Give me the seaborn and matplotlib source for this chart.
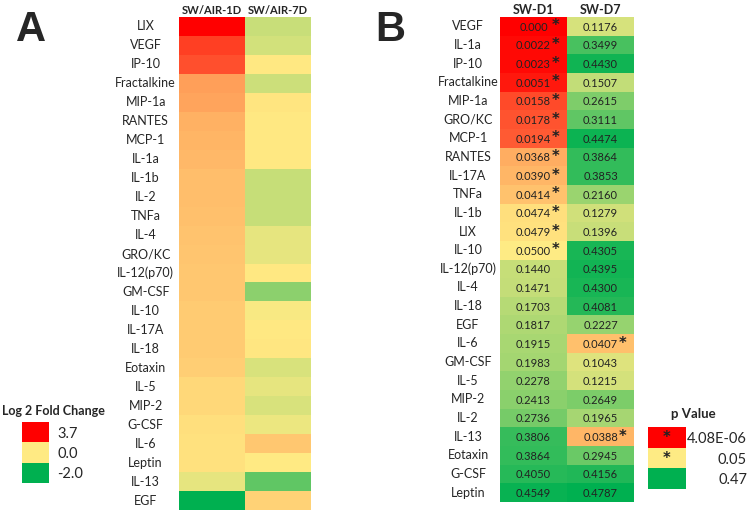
import numpy as np
import pandas as pd
import seaborn as sns
import matplotlib.pyplot as plt
from matplotlib.colors import LinearSegmentedColormap, TwoSlopeNorm

# panel A: log2 fold change
cyto_a = ["LIX", "VEGF", "IP-10", "Fractalkine", "MIP-1a", "RANTES", "MCP-1", "IL-1a",
          "IL-1b", "IL-2", "TNFa", "IL-4", "GRO/KC", "IL-12(p70)", "GM-CSF", "IL-10",
          "IL-17A", "IL-18", "Eotaxin", "IL-5", "MIP-2", "G-CSF", "IL-6", "Leptin",
          "IL-13", "EGF"]
fc_1d = [3.7, 2.7, 2.45, 1.2, 1.1, 0.9, 0.85, 0.8, 0.72, 0.7, 0.68, 0.62, 0.6, 0.56,
         0.55, 0.52, 0.5, 0.5, 0.45, 0.3, 0.3, 0.2, 0.15, 0.15, -0.2, -2.0]
fc_7d = [-0.43, -0.35, 0.05, -0.4, 0.1, 0.05, 0.05, 0.05, -0.45, -0.45, -0.45, -0.2,
         -0.2, 0.05, -0.9, -0.05, 0.05, 0.08, -0.3, -0.2, -0.3, -0.15, 0.55, 0.0,
         -1.25, 0.4]
cols_a = ["SW/AIR-1D", "SW/AIR-7D"]

# panel B: p values
cyto_b = ["VEGF", "IL-1a", "IP-10", "Fractalkine", "MIP-1a", "GRO/KC", "MCP-1", "RANTES",
          "IL-17A", "TNFa", "IL-1b", "LIX", "IL-10", "IL-12(p70)", "IL-4", "IL-18", "EGF",
          "IL-6", "GM-CSF", "IL-5", "MIP-2", "IL-2", "IL-13", "Eotaxin", "G-CSF", "Leptin"]
p_d1 = [4.08e-6, 0.0022, 0.0023, 0.0051, 0.0158, 0.0178, 0.0194, 0.0368, 0.0390, 0.0414,
        0.0474, 0.0479, 0.0500, 0.1440, 0.1471, 0.1703, 0.1817, 0.1915, 0.1983, 0.2278,
        0.2413, 0.2736, 0.3806, 0.3864, 0.4050, 0.4549]
p_d7 = [0.1176, 0.3499, 0.4430, 0.1507, 0.2615, 0.3111, 0.4474, 0.3864, 0.3853, 0.2160,
        0.1279, 0.1396, 0.4305, 0.4395, 0.4300, 0.4081, 0.2227, 0.0407, 0.1043, 0.1215,
        0.2649, 0.1965, 0.0388, 0.2945, 0.4156, 0.4787]
cols_b = ["SW-D1", "SW-D7"]

fc_legend = [3.7, 0.0, -2.0]
p_legend = [4.08e-6, 0.05, 0.47]
p_legend_labels = ["4.08E-06", "0.05", "0.47"]

sns.set_style("white")
plt.rcParams['font.family'] = ['Lato', 'DejaVu Sans']

cmap = LinearSegmentedColormap.from_list("ryg", ["#00B050", "#FFEB84", "#FF0000"])
cmap_p = cmap.reversed()
norm_a = TwoSlopeNorm(vmin=-2.0, vcenter=0.0, vmax=3.7)
norm_b = TwoSlopeNorm(vmin=4.08e-6, vcenter=0.05, vmax=0.47)

fig = plt.figure(figsize=(7.5, 5.13), dpi=100)

# ---- panel A ----
df_a = pd.DataFrame({cols_a[0]: fc_1d, cols_a[1]: fc_7d}, index=cyto_a)
ax_a = fig.add_axes([179/750, 1 - 510/513, 132/750, 493/513])
sns.heatmap(df_a, cmap=cmap, norm=norm_a, cbar=False, ax=ax_a)

# ---- panel B ----
df_b = pd.DataFrame({cols_b[0]: p_d1, cols_b[1]: p_d7}, index=cyto_b)
ax_b = fig.add_axes([500/750, 1 - 502/513, 134/750, 485/513])
sns.heatmap(df_b, cmap=cmap_p, norm=norm_b, cbar=False, ax=ax_b)

for j, col in enumerate(cols_b):
    for i, v in enumerate(df_b[col]):
        txt = "0.000" if v < 0.0005 else f"{v:.4f}"
        ax_b.text(j + 0.5, i + 0.55, txt, ha='center', va='center', fontsize=8,
                  color='#222222')
        if v <= 0.05:
            ax_b.text(j + 0.5 + 0.33, i + 0.48, "*", ha='center', va='center',
                      fontsize=10.5, fontweight='bold', color='#222222',
                      family='DejaVu Sans')

for ax, pad, hsize in [(ax_a, 24, 8), (ax_b, 23, 9)]:
    ax.xaxis.tick_top()
    ax.tick_params(axis='both', length=0)
    ax.tick_params(axis='y', pad=pad, labelsize=9, rotation=0)
    ax.tick_params(axis='x', pad=1, labelsize=hsize)
    for lab in ax.get_yticklabels():
        lab.set_horizontalalignment('center')
    for lab in ax.get_xticklabels():
        lab.set_fontweight('bold')
    ax.set_xlabel("")
    ax.set_ylabel("")

# ---- legend A ----
ax_la = fig.add_axes([22/750, 1 - 483/513, 27/750, 61/513])
sns.heatmap(pd.DataFrame({"v": fc_legend}), cmap=cmap, norm=norm_a, cbar=False, ax=ax_la,
            xticklabels=False, yticklabels=[f"{v:.1f}" for v in fc_legend])
ax_la.yaxis.tick_right()
ax_la.tick_params(axis='y', length=0, pad=6, labelsize=10.5, rotation=0)
fig.text(53/750, 1 - 411/513, "Log 2 Fold Change", ha='center', va='center',
         fontsize=9, fontweight='bold')

# ---- legend B ----
ax_lb = fig.add_axes([648/750, 1 - 489/513, 38/750, 62/513])
sns.heatmap(pd.DataFrame({"p": p_legend}), cmap=cmap_p, norm=norm_b, cbar=False, ax=ax_lb,
            xticklabels=False, yticklabels=p_legend_labels)
for i, v in enumerate(p_legend):
    if v <= 0.05:
        ax_lb.text(0.5, i + 0.5, "*", ha='center', va='center', fontsize=10.5,
                   fontweight='bold', color='#222222', family='DejaVu Sans')
ax_lb.yaxis.tick_right()
ax_lb.tick_params(axis='y', length=0, pad=44, labelsize=10.5, rotation=0)
for lab in ax_lb.get_yticklabels():
    lab.set_horizontalalignment('right')
fig.text(693/750, 1 - 414/513, "p Value", ha='center', va='center',
         fontsize=9.5, fontweight='bold')

# panel letters
fig.text(31/750, 1 - 30/513, "A", ha='center', va='center', fontsize=30,
         fontweight='bold', family='Liberation Sans')
fig.text(390/750, 1 - 30/513, "B", ha='center', va='center', fontsize=30,
         fontweight='bold', family='Liberation Sans')

fig.savefig("out.png", dpi=100)
